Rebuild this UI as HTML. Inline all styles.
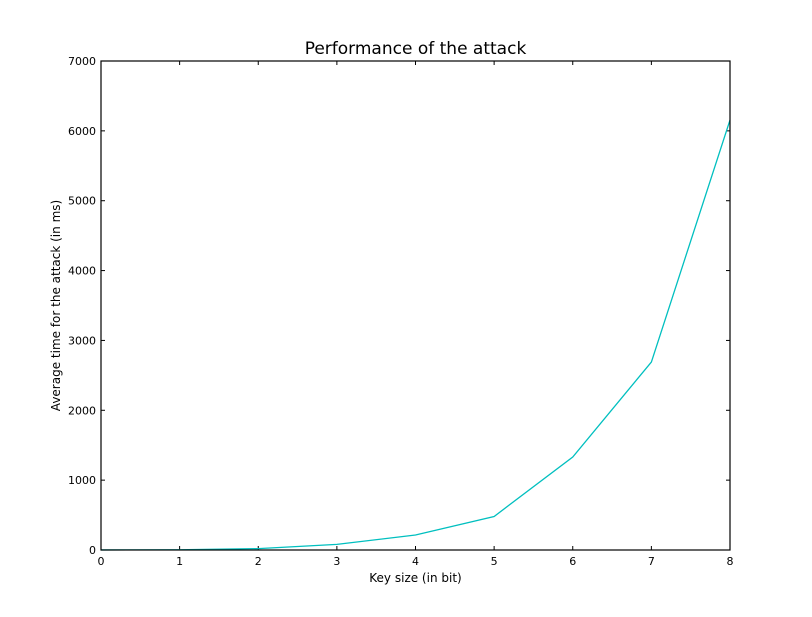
<!DOCTYPE html>
<html><head><meta charset="utf-8"><style>
body{margin:0;background:#fff;}
svg text{font-family:"DejaVu Sans","Liberation Sans",sans-serif;fill:#000;}
</style></head><body>
<svg id="chart" width="812" height="612">
<text x="415.5" y="54" font-size="17" text-anchor="middle">Performance of the attack</text>
<text x="415.5" y="582" font-size="12" text-anchor="middle">Key size (in bit)</text>
<text x="0" y="0" font-size="12" text-anchor="middle" transform="translate(60,305.5) rotate(-90)">Average time for the attack (in ms)</text>
<g id="ticks"></g>
<polyline id="line" fill="none" stroke="#00bfbf" stroke-width="1.3"/>
<rect x="101" y="61" width="629" height="489" fill="none" stroke="#000" stroke-width="1.2"/>
</svg>
<script>
const keySizes=[0,1,2,3,4,5,6,7,8];
const avgTimes=[1,3,20,80,215,480,1331,2691,6155];
const xTicks=[0,1,2,3,4,5,6,7,8];
const yTicks=[0,1000,2000,3000,4000,5000,6000,7000];
const L=101,R=730,T=61,B=550;
const xs=v=>L+(v-0)/8*(R-L);
const ys=v=>B-v/7000*(B-T);
const NS="http://www.w3.org/2000/svg";
const g=document.getElementById('ticks');
function mk(tag,attrs){const e=document.createElementNS(NS,tag);for(const k in attrs)e.setAttribute(k,attrs[k]);return e;}
xTicks.forEach(v=>{
  const x=xs(v);
  const t1=mk('line',{x1:x,x2:x,y1:B,y2:B-4,stroke:'#000'});
  
  
  g.appendChild(t1);
  const t2=mk('line',{x1:x,x2:x,y1:T,y2:T+4,stroke:'#000'});
  
  
  g.appendChild(t2);
  const tx=mk('text',{x:x,y:B+15,'font-size':11,'text-anchor':'middle'});
  tx.textContent=v;
  
  
  g.appendChild(tx);
});
yTicks.forEach(v=>{
  const y=ys(v);
  const t1=mk('line',{x1:L,x2:L+4,y1:y,y2:y,stroke:'#000'});
  
  
  g.appendChild(t1);
  const t2=mk('line',{x1:R,x2:R-4,y1:y,y2:y,stroke:'#000'});
  
  
  g.appendChild(t2);
  const tx=mk('text',{x:L-5,y:y+4,'font-size':11,'text-anchor':'end'});
  tx.textContent=v;
  
  
  g.appendChild(tx);
});
document.getElementById('line').setAttribute('points',keySizes.map((k,i)=>xs(k)+','+ys(avgTimes[i])).join(' '));
</script>
</body></html>
